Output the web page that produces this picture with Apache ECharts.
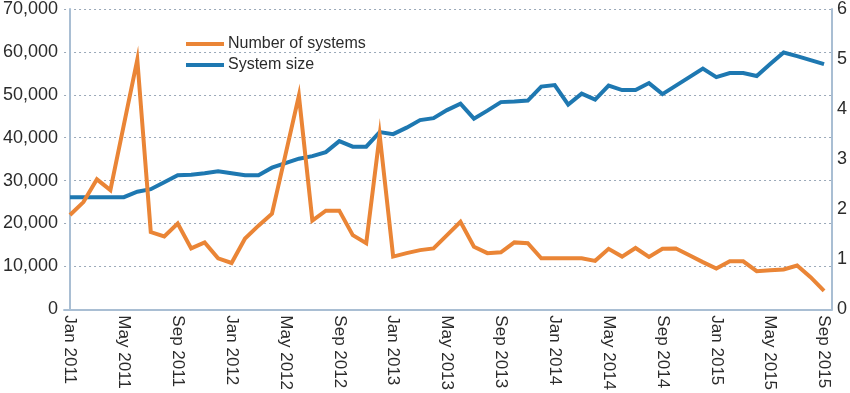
<!DOCTYPE html>
<html>
<head>
<meta charset="utf-8">
<script src="https://cdn.jsdelivr.net/npm/echarts@6/dist/echarts.min.js"></script>
<style>
html,body{margin:0;padding:0;background:#fff;}
#chart{width:850px;height:393px;}
</style>
</head>
<body>
<div id="chart"></div>
<script>
const months = [
  'Jan 2011','Feb 2011','Mar 2011','Apr 2011','May 2011','Jun 2011','Jul 2011','Aug 2011','Sep 2011','Oct 2011','Nov 2011','Dec 2011',
  'Jan 2012','Feb 2012','Mar 2012','Apr 2012','May 2012','Jun 2012','Jul 2012','Aug 2012','Sep 2012','Oct 2012','Nov 2012','Dec 2012',
  'Jan 2013','Feb 2013','Mar 2013','Apr 2013','May 2013','Jun 2013','Jul 2013','Aug 2013','Sep 2013','Oct 2013','Nov 2013','Dec 2013',
  'Jan 2014','Feb 2014','Mar 2014','Apr 2014','May 2014','Jun 2014','Jul 2014','Aug 2014','Sep 2014','Oct 2014','Nov 2014','Dec 2014',
  'Jan 2015','Feb 2015','Mar 2015','Apr 2015','May 2015','Jun 2015','Jul 2015','Aug 2015','Sep 2015'
];
const tickLabels = ['Jan 2011','May 2011','Sep 2011','Jan 2012','May 2012','Sep 2012','Jan 2013','May 2013','Sep 2013','Jan 2014','May 2014','Sep 2014','Jan 2015','May 2015','Sep 2015'];
const numberOfSystems = [
  22000,25000,30300,27800,43000,58200,18000,17000,20000,14200,15600,11900,
  10800,16500,19500,22300,36000,49800,20700,23000,23000,17300,15400,40600,
  12300,13100,13800,14200,17300,20400,14600,13100,13300,15600,15400,11900,
  11900,11900,11900,11300,14100,12300,14300,12200,14100,14200,12600,11000,
  9500,11200,11200,8900,9100,9300,10200,7500,4300
];
const systemSize = [
  2.24,2.24,2.24,2.24,2.24,2.35,2.40,2.54,2.68,2.69,2.72,2.76,
  2.72,2.68,2.68,2.83,2.92,3.01,3.06,3.14,3.36,3.25,3.25,3.54,
  3.50,3.63,3.78,3.82,3.98,4.11,3.81,3.97,4.14,4.15,4.17,4.45,
  4.48,4.09,4.31,4.19,4.47,4.38,4.38,4.52,4.30,4.47,4.64,4.81,
  4.64,4.72,4.72,4.66,4.90,5.13,5.06,4.98,4.90
];
const seriesNames = ['Number of systems','System size'];
const leftTicks = [0,10000,20000,30000,40000,50000,60000,70000];
const rightTicks = [0,1,2,3,4,5,6];

const tickIdx = tickLabels.map(l => months.indexOf(l));
const fontFam = '"Liberation Sans", Arial, sans-serif';
const axisCol = '#A9BED3';
const textCol = '#2b2b2b';

const chart = echarts.init(document.getElementById('chart'), null, {renderer:'canvas'});
chart.setOption({
  animation: false,
  backgroundColor: '#ffffff',
  textStyle: {fontFamily: fontFam},
  grid: {left: 62, right: 17, top: 7, bottom: 81, containLabel: false},
  legend: {
    orient: 'vertical', left: 181, top: 31,
    icon: 'rect', itemWidth: 38, itemHeight: 4, itemGap: 5,
    textStyle: {fontSize: 16, color: textCol, fontFamily: fontFam, padding:[0,0,0,-1]},
    data: seriesNames
  },
  xAxis: {
    type: 'value',
    min: -0.44, max: 56.59,
    splitLine: {show: false},
    axisTick: {show: false},
    axisLine: {show: true, lineStyle: {color: axisCol, width: 2}},
    axisLabel: {
      customValues: tickIdx,
      rotate: -90,
      margin: 6,
      fontSize: 17,
      color: textCol,
      formatter: v => months[Math.round(v)] || ''
    }
  },
  yAxis: [
    {
      type: 'value', min: 0, max: 70000, interval: 10000,
      position: 'left',
      axisLine: {show: true, lineStyle: {color: axisCol, width: 2}},
      axisTick: {show: false},
      splitLine: {show: true, lineStyle: {color: '#9AA8B8', type: [2,3], width: 1}},
      axisLabel: {
        fontSize: 18, color: textCol, margin: 6,
        formatter: v => leftTicks.includes(v) ? v.toLocaleString('en-US') : ''
      }
    },
    {
      type: 'value', min: 0, max: 6, interval: 1,
      position: 'right',
      axisLine: {show: true, lineStyle: {color: axisCol, width: 2}},
      axisTick: {show: false},
      splitLine: {show: false},
      axisLabel: {
        fontSize: 18, color: textCol, margin: 5,
        formatter: v => rightTicks.includes(v) ? String(v) : ''
      }
    }
  ],
  series: [
    {
      name: seriesNames[0], type: 'line', yAxisIndex: 0,
      data: numberOfSystems.map((v, i) => [i, v]),
      showSymbol: false, symbol: 'none',
      lineStyle: {color: '#EA8536', width: 4, join: 'miter'},
      itemStyle: {color: '#EA8536'},
      z: 3
    },
    {
      name: seriesNames[1], type: 'line', yAxisIndex: 1,
      data: systemSize.map((v, i) => [i, v]),
      showSymbol: false, symbol: 'none',
      lineStyle: {color: '#1E78B1', width: 4, join: 'miter'},
      itemStyle: {color: '#1E78B1'},
      z: 2
    }
  ]
});
</script>
</body>
</html>
